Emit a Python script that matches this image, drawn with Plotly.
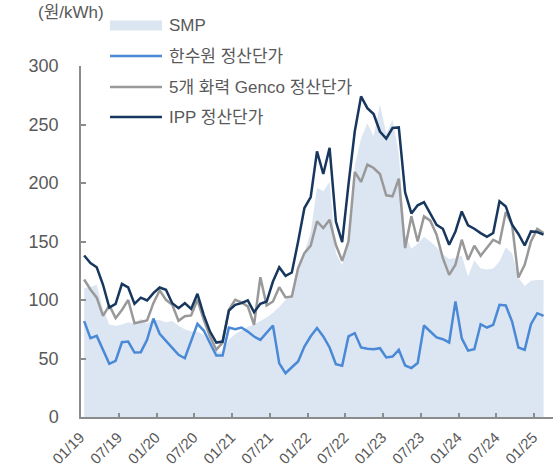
import plotly.graph_objects as go

# Monthly categories 01/19 .. 02/25
months = [f"{m:02d}/{y:02d}" for y in range(19, 26) for m in range(1, 13)][:74]

smp = [110, 111, 113, 92, 79, 78, 79, 81, 80, 84,
       80, 83, 83, 81, 82, 78, 75, 73, 73, 70,
       63, 56, 56, 66, 71, 74, 77, 79, 82, 85,
       89, 94, 100, 105, 124, 141, 158, 196, 193, 201,
       140, 130, 155, 215, 238, 251, 240, 267, 242, 254,
       225, 155, 144, 148, 154, 150, 145, 139, 135, 136,
       138, 120, 134, 127, 126, 127, 133, 145, 140, 119,
       112, 116.5, 117, 117]

khnp = [82, 67.3, 69.3, 57.4, 45.4, 48, 63.9, 64.5, 55.1, 55.4,
        65.9, 84.2, 71.1, 65.1, 58.8, 53.1, 50.2, 64.5, 79.6, 73.9,
        63, 52.5, 52.5, 76.5, 75, 76.5, 73, 68.8, 65.9, 71.6,
        78.2, 45.9, 37.4, 42.5, 47.4, 60.2, 69, 76, 68.9, 59.4,
        45.2, 43.8, 68.9, 71.7, 59.4, 58.3, 58, 58.8, 50.9, 51.7,
        57.4, 44, 41.8, 46.1, 78.2, 73.1, 68, 66.5, 63.7, 98.8,
        67.3, 56.7, 57.9, 79.3, 76.5, 78.7, 95.9, 95.3, 81.6, 59.4,
        57.4, 79.3, 88.7, 86.4]

genco = [117.5, 109, 102, 86.5, 95.5, 84.5, 91.5, 100, 80.1, 81.6,
         82.5, 97.3, 108.2, 100.2, 96, 82.2, 86.1, 86.8, 100.2, 83.2,
         68.8, 57.4, 63.6, 91.6, 100.2, 97.9, 94.5, 78.8, 119.5, 95.3,
         98.7, 111, 102.2, 103, 127.2, 140.1, 146.5, 167.2, 161.5, 168.6,
         147.2, 133.5, 150, 209.4, 200.9, 215.7, 212.8, 207.7, 189.5, 188.6,
         203.7, 144.4, 171.5, 150, 171.5, 167.8, 155.8, 135.8, 121.5, 130.1,
         151.5, 134.4, 146.4, 137.8, 144.9, 151.5, 148.7, 175.2, 164.3, 119.2,
         130.1, 150, 160.9, 157.2]

ipp = [138, 131.5, 128, 113, 93.6, 96.7, 113.8, 110.7, 96.7, 102,
       99.6, 105.9, 110.7, 108.7, 97.3, 93, 97.3, 92.4, 105.3, 87.3,
       73, 63.6, 64.5, 91, 95.9, 97.3, 99.6, 89.6, 96.7, 98.7,
       115.8, 128, 120.7, 123.5, 150, 178.6, 188, 227, 207.7, 230,
       167, 149.5, 198.6, 244, 274, 264, 259, 244, 237.9, 247,
       247.5, 192, 174, 180.9, 183.7, 174, 164.3, 160.9, 147.2, 158.6,
       175.7, 163.8, 160.9, 157.2, 154, 157.2, 184.3, 180, 164.3, 156.4,
       146.6, 158.6, 158.1, 155.8]

tick_labels = ["01/19", "07/19", "01/20", "07/20", "01/21", "07/21", "01/22",
               "07/22", "01/23", "07/23", "01/24", "07/24", "01/25"]

series_names = ["SMP", "한수원 정산단가", "5개 화력 Genco 정산단가", "IPP 정산단가"]
colors = {"smp": "#DCE6F2", "khnp": "#4A89D6", "genco": "#999999", "ipp": "#17375E"}

x = list(range(len(months)))
tickvals = [months.index(t) - 0.5 for t in tick_labels]

FONT = "Liberation Sans, Arial, Noto Sans CJK KR, sans-serif"
TXT = "#595959"

fig = go.Figure()
fig.add_trace(go.Scatter(x=x, y=smp, name=series_names[0], mode="none",
                         fill="tozeroy", fillcolor=colors["smp"], showlegend=False,
                         customdata=months, hovertemplate="%{customdata}: %{y}<extra></extra>"))
for key, vals, nm in [("khnp", khnp, series_names[1]), ("genco", genco, series_names[2]),
                      ("ipp", ipp, series_names[3])]:
    fig.add_trace(go.Scatter(x=x, y=vals, name=nm, mode="lines",
                             line=dict(color=colors[key], width=2.5), showlegend=False,
                             customdata=months, hovertemplate="%{customdata}: %{y}<extra></extra>"))

L, R, T, B = 81, 7, 66, 49
W, H = 560, 466
pw, ph = W - L - R, H - T - B


def px(xp):
    return (xp - L) / pw


def py(yp):
    return (H - B - yp) / ph


# manual legend
leg_y = [25, 56, 87, 117]
shapes = []
shapes.append(dict(type="rect", xref="paper", yref="paper", x0=px(110), x1=px(162),
                   y0=py(30.5), y1=py(20.5), fillcolor=colors["smp"], line=dict(width=0),
                   layer="above"))
for yy, key in zip(leg_y[1:], ["khnp", "genco", "ipp"]):
    shapes.append(dict(type="line", xref="paper", yref="paper", x0=px(110), x1=px(162),
                       y0=py(yy), y1=py(yy), line=dict(color=colors[key], width=2.5)))
annotations = []
for yy, nm in zip(leg_y, series_names):
    annotations.append(dict(text=nm, xref="paper", yref="paper", x=px(167), y=py(yy),
                            xanchor="left", yanchor="middle", showarrow=False,
                            font=dict(size=17, color=TXT, family=FONT)))
annotations.append(dict(text="(원/kWh)", xref="paper", yref="paper", x=px(71), y=py(13),
                        xanchor="center", yanchor="middle", showarrow=False,
                        font=dict(size=17, color=TXT, family=FONT)))

fig.update_layout(
    width=W, height=H, margin=dict(l=L, r=R, t=T, b=B, autoexpand=False),
    paper_bgcolor="white", plot_bgcolor="white",
    font=dict(family=FONT, color=TXT),
    shapes=shapes, annotations=annotations, showlegend=False,
)
fig.update_xaxes(range=[-0.5, 74.5], tickmode="array", tickvals=tickvals, ticktext=tick_labels,
                 tickangle=-45, ticks="inside", ticklen=4, tickwidth=1.5, tickcolor="#8C8C8C",
                 showline=True, linecolor="#8C8C8C", linewidth=1.5, showgrid=False, zeroline=False,
                 tickfont=dict(size=15, color=TXT, family=FONT), ticklabelshift=-1,
                 ticklabelstandoff=4, automargin=False)
fig.update_yaxes(range=[0, 300], dtick=50, ticks="inside", ticklen=5, tickwidth=1.5,
                 tickcolor="#8C8C8C", showline=True, linecolor="#8C8C8C", linewidth=1.5,
                 showgrid=False, zeroline=False, tickfont=dict(size=18, color=TXT, family=FONT),
                 ticklabelstandoff=17, automargin=False)

fig.write_html("out.html", config={"displayModeBar": False},
               post_script="document.body.style.margin='0';")
